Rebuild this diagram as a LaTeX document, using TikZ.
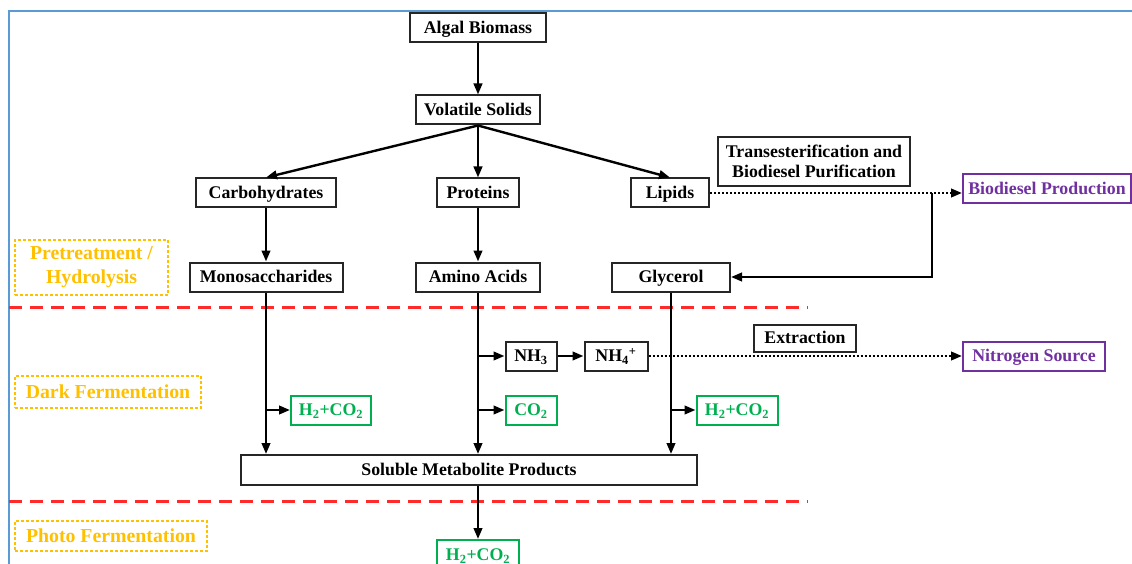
\documentclass[tikz,border=0pt]{standalone}
\usepackage{fontspec}
\setmainfont{Liberation Serif}
\usetikzlibrary{arrows.meta}
\definecolor{frameblue}{HTML}{5B9BD5}
\definecolor{grn}{HTML}{00B050}
\definecolor{pur}{HTML}{7030A0}
\definecolor{org}{HTML}{FFC000}
\definecolor{rdd}{HTML}{FF2A2A}
\begin{document}
\begin{tikzpicture}[x=1pt,y=-1pt,
  lbl/.style={font=\fontsize{17.8}{20}\selectfont\bfseries},
  plainbox/.style={lbl, draw=black!85, line width=2pt, minimum height=29pt, inner xsep=4pt, inner ysep=2pt, align=center},
  box/.style={plainbox, text height=13pt, text depth=1.5pt},
  gbox/.style={box, draw=grn, text=grn},
  pbox/.style={box, draw=pur, text=pur},
  obox/.style={font=\fontsize{19.8}{24}\selectfont\bfseries, draw=org, line width=1.6pt, dash pattern=on 3pt off 2pt, text=org, align=center, inner sep=2pt},
  tip/.style={-{Triangle[length=11pt,width=8.5pt]}},
  arr/.style={tip, line width=2.4pt},
  ln/.style={line width=2.4pt},
  dot/.style={line width=2.4pt, dash pattern=on 2pt off 2pt},
  sep/.style={rdd, line width=3pt, dash pattern=on 13pt off 8pt}
]
\useasboundingbox (0,0) rectangle (1132,564);
% frame
\draw[frameblue, line width=2pt] (9,570) -- (9,11) -- (1140,11);

% nodes
\node[box, minimum width=136pt] (ab) at (478,28) {Algal Biomass};
\node[box, minimum width=124pt] (vs) at (478,110) {Volatile Solids};
\node[box, minimum width=140pt] (carb) at (266,193) {Carbohydrates};
\node[box, minimum width=82pt] (prot) at (478,193) {Proteins};
\node[box, minimum width=78pt] (lip) at (670,193) {Lipids};
\node[plainbox, minimum width=192pt, minimum height=49pt, inner ysep=3pt] (trans) at (814,161.5) {Transesterification and\\Biodiesel Purification};
\node[pbox, minimum width=168pt] (bio) at (1047,189) {Biodiesel Production};
\node[box, minimum width=153pt] (mono) at (266,277) {Monosaccharides};
\node[box, minimum width=124pt] (amino) at (478,277) {Amino Acids};
\node[box, minimum width=118pt] (gly) at (671,277) {Glycerol};
\node[box, minimum width=51pt] (nh3) at (531,356) {NH\textsubscript{3}};
\node[box, minimum width=63pt] (nh4) at (616,356) {NH\textsubscript{4}\textsuperscript{+}};
\node[box, minimum width=102pt, minimum height=27pt] (ext) at (805,338) {Extraction};
\node[pbox, minimum width=142pt] (nit) at (1034,356) {Nitrogen Source};
\node[gbox, minimum width=80pt] (h1) at (331,410) {H\textsubscript{2}+CO\textsubscript{2}};
\node[gbox, minimum width=51pt] (co2) at (531,410) {CO\textsubscript{2}};
\node[gbox, minimum width=81pt] (h3) at (737,410) {H\textsubscript{2}+CO\textsubscript{2}};
\node[box, minimum width=456pt, minimum height=30pt] (smp) at (469,470) {Soluble Metabolite Products};
\node[gbox, minimum width=82pt, minimum height=30pt] (h4) at (478,555) {H\textsubscript{2}+CO\textsubscript{2}};

% stage labels
\node[obox, minimum width=153pt, minimum height=55pt] (pre) at (91.5,267.5) {Pretreatment /\\Hydrolysis};
\node[obox, minimum width=186pt, minimum height=32pt] (dark) at (108,392) {Dark Fermentation};
\node[obox, minimum width=192pt, minimum height=30pt] (photo) at (111,536) {Photo Fermentation};

% separators
\draw[sep] (9,307) -- (808,307);
\draw[sep] (9,501) -- (808,501);

% top tree
\draw[arr] (ab) -- (vs);
\draw[arr] (vs.south) -- (carb.north);
\draw[arr] (vs.south) -- (prot.north);
\draw[arr] (vs.south) -- (lip.north);
\draw[arr] (carb) -- (mono);
\draw[arr] (prot) -- (amino);

% lipids -> biodiesel
\coordinate (j) at (932,0 |- lip.east);
\draw[dot, tip] (lip.east) -- (lip.east -| bio.west);
\draw[ln, tip] (j) |- (gly.east);

% vertical trunks
\draw[arr] (mono) -- (mono.south |- smp.north);
\draw[arr] (amino) -- (amino.south |- smp.north);
\draw[arr] (gly) -- (gly.south |- smp.north);
\draw[arr] (mono.south |- h1) -- (h1.west);
\draw[arr] (amino.south |- nh3) -- (nh3.west);
\draw[arr] (amino.south |- co2) -- (co2.west);
\draw[arr] (gly.south |- h3) -- (h3.west);
\draw[arr] (nh3) -- (nh4);
\draw[dot, tip] (nh4.east) -- (nit.west);
\draw[arr] (smp.south -| h4) -- (h4.north);
\end{tikzpicture}
\end{document}
